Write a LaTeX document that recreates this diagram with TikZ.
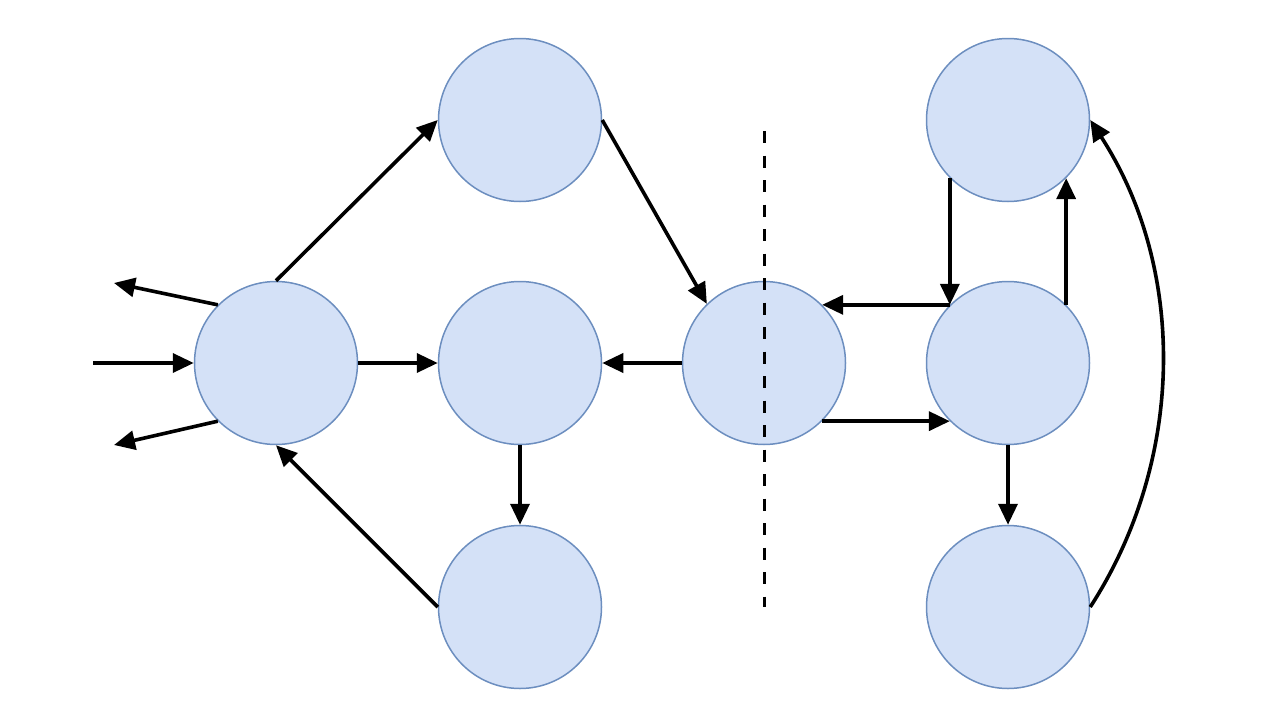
\documentclass[tikz,border=0pt]{standalone}
\usetikzlibrary{arrows.meta}
\definecolor{cfill}{HTML}{D4E1F7}
\definecolor{cdraw}{HTML}{6C8EBF}
\begin{document}
\begin{tikzpicture}[x=1pt,y=-1pt,
  vtx/.style={circle,draw=cdraw,fill=cfill,line width=1.5pt,minimum size=163pt,inner sep=0pt},
  arr/.style={line width=3.6pt,-{Triangle[length=21pt,width=19pt]}}]
\useasboundingbox (0,0) rectangle (1280,720);
\node[vtx] (A) at (276,363) {};
\node[vtx] (B) at (520,120) {};
\node[vtx] (C) at (520,363) {};
\node[vtx] (D) at (520,607) {};
\node[vtx] (E) at (764,363) {};
\node[vtx] (F) at (1008,120) {};
\node[vtx] (G) at (1008,363) {};
\node[vtx] (H) at (1008,607) {};
\coordinate (in) at (93,363);
\coordinate (o1) at (114,283);
\coordinate (o2) at (114,445);
\coordinate (dt) at (764,131);
\coordinate (db) at (764,607);
\draw[line width=3pt,dash pattern=on 12pt off 12.5pt] (dt) -- (db);
\draw[arr] (in) -- (A.west);
\draw[arr] (A.135) -- (o1);
\draw[arr] (A.225) -- (o2);
\draw[arr] (A.north) -- (B.west);
\draw[arr] (A.east) -- (C.west);
\draw[arr] (D.west) -- (A.south);
\draw[arr] (B.east) -- (E.134);
\draw[arr] (E.west) -- (C.east);
\draw[arr] (C.south) -- (D.north);
\draw[arr] (G.135) -- (E.45);
\draw[arr] (E.-45) -- (G.-135);
\draw[arr] (F.-135) -- (G.135);
\draw[arr] (G.45) -- (F.-45);
\draw[arr] (G.south) -- (H.north);
\draw[arr] (H.east) .. controls (1186,459) and (1186,268) .. (F.east);
\end{tikzpicture}
\end{document}
